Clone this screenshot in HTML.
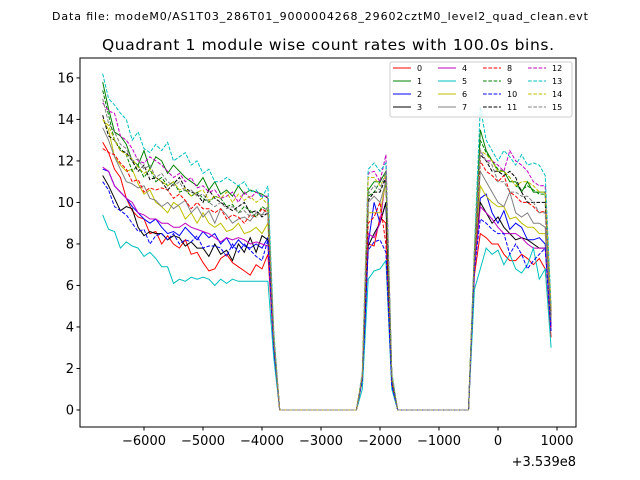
<!DOCTYPE html>
<html><head><meta charset="utf-8"><style>
body{margin:0;background:#fff}
svg{display:block;font-family:"DejaVu Sans","Liberation Sans",sans-serif}
</style></head><body>
<svg id="chart" width="640" height="480" viewBox="0 0 640 480">
<rect width="640" height="480" fill="#fff"/>
<text x="320" y="20" text-anchor="middle" font-size="11" textLength="536">Data file: modeM0/AS1T03_286T01_9000004268_29602cztM0_level2_quad_clean.evt</text>
<text x="328" y="50" text-anchor="middle" font-size="15.5" textLength="452">Quadrant 1 module wise count rates with 100.0s bins.</text>
<g id="plot"></g>
<g id="axes"></g>
<g id="legend"></g>
</svg>
<script>
const seg1Times = [-6700,-6600,-6500,-6400,-6300,-6200,-6100,-6000,-5900,-5800,-5700,-5600,-5500,-5400,-5300,-5200,-5100,-5000,-4900,-4800,-4700,-4600,-4500,-4400,-4300,-4200,-4100,-4000,-3900,-3800];
const gap1Times = [-3700,-3600,-3500,-3400,-3300,-3200,-3100,-3000,-2900,-2800,-2700,-2600,-2500,-2400];
const seg2Times = [-2300,-2200,-2100,-2000,-1900,-1800];
const gap2Times = [-1700,-1600,-1500,-1400,-1300,-1200,-1100,-1000,-900,-800,-700,-600,-500];
const seg3Times = [-400,-300,-200,-100,0,100,200,300,400,500,600,700,800,900];
const seriesNames = ["0","1","2","3","4","5","6","7","8","9","10","11","12","13","14","15"];
const seg1 = [
[12.9,12.4,11.6,11.2,10.2,9.6,9.3,9.2,8.5,8.6,8.0,8.4,8.0,7.8,8.2,7.5,7.6,7.1,6.7,6.8,7.3,7.5,7.1,6.9,6.7,6.5,7.0,6.8,7.5,3.0],
[15.8,14.5,13.4,13.2,12.8,12.0,11.8,12.5,11.6,12.2,12.0,11.4,11.8,11.5,11.2,11.0,10.8,11.2,10.6,11.0,10.4,10.6,10.3,10.8,10.4,10.6,10.5,10.4,10.2,3.5],
[11.6,11.5,10.8,10.5,10.2,9.8,9.5,9.2,9.0,9.2,8.8,8.5,8.6,8.4,8.8,8.5,8.2,8.6,8.3,8.5,8.0,8.3,7.8,8.2,7.9,7.8,8.0,7.8,8.3,3.2],
[11.3,10.8,10.2,9.6,9.8,9.7,8.8,8.4,8.6,8.5,8.5,8.2,8.4,8.3,7.9,8.1,7.8,7.8,7.4,8.0,7.5,7.7,7.2,8.0,7.6,8.3,7.6,8.4,8.2,3.0],
[11.7,11.5,10.8,10.5,10.2,10.0,9.5,9.4,9.2,9.2,9.0,9.0,8.8,8.8,9.0,8.8,8.7,8.6,8.5,8.3,8.1,8.3,8.2,8.3,8.2,8.0,8.1,8.0,7.9,3.0],
[9.4,8.7,8.6,7.8,8.1,7.9,7.8,7.4,7.6,7.3,6.9,6.9,6.1,6.3,6.2,6.4,6.3,6.4,6.3,6.0,6.3,6.1,6.3,6.2,6.2,6.2,6.2,6.2,6.2,2.5],
[14.0,13.5,12.2,11.8,11.5,11.6,10.9,10.4,10.6,10.0,9.8,9.5,10.0,9.8,9.2,9.5,9.0,9.5,9.0,8.8,9.0,8.6,8.7,9.0,8.5,8.6,8.8,8.5,9.0,3.3],
[13.6,13.0,12.2,11.6,11.0,10.9,10.7,10.8,10.2,10.1,9.8,10.0,9.7,9.9,10.1,9.5,9.8,9.3,9.6,9.0,9.7,9.4,9.0,9.2,9.3,9.1,9.5,9.4,9.8,3.5],
[12.6,12.4,12.3,11.9,11.6,11.0,11.1,10.5,10.7,10.6,10.7,10.6,10.2,10.4,10.1,9.7,10.0,9.7,9.7,9.5,9.7,9.2,9.4,9.3,9.0,9.4,9.3,9.7,9.5,3.2],
[15.4,14.2,13.0,12.6,12.3,11.5,11.8,11.2,11.6,11.0,11.2,10.8,11.0,10.5,10.6,10.3,10.5,10.2,10.0,10.3,10.2,9.8,9.9,9.5,9.8,9.6,9.3,9.8,9.6,3.5],
[11.0,10.6,9.8,9.6,9.4,9.0,8.6,8.7,8.0,8.4,8.5,8.2,8.5,8.0,8.2,8.1,8.4,7.8,7.9,7.9,7.8,7.4,8.0,7.6,8.0,7.7,7.4,7.2,8.2,3.0],
[14.2,13.2,13.0,12.5,12.4,12.0,11.5,11.8,11.1,11.2,11.0,10.6,10.9,11.2,10.7,10.5,10.4,10.0,10.6,10.2,10.0,9.8,9.6,9.8,10.0,9.5,9.6,9.3,9.5,3.4],
[14.8,14.4,14.3,13.2,13.0,12.6,12.0,11.9,12.2,12.0,11.8,11.5,11.2,11.4,11.0,11.2,10.7,10.8,10.5,10.6,10.2,10.3,10.5,10.0,10.5,10.2,10.5,10.3,10.3,3.6],
[16.2,15.0,14.7,14.3,14.0,13.0,13.4,12.6,12.4,12.8,12.5,12.9,12.0,12.2,12.4,11.8,12.0,11.4,11.6,11.0,11.0,11.2,11.0,10.8,11.0,10.5,10.6,10.2,10.8,3.8],
[14.0,13.7,13.0,12.5,12.3,12.1,11.7,11.4,11.6,11.2,11.0,10.8,11.0,10.6,10.7,10.3,10.5,10.6,10.1,10.3,10.2,10.5,10.0,10.4,10.1,10.3,10.0,10.2,9.9,3.5],
[15.0,13.8,13.4,12.8,12.6,12.0,12.1,11.6,11.8,11.2,11.4,11.0,10.8,11.0,10.5,10.6,10.3,10.4,10.0,9.8,10.0,9.7,9.8,9.5,9.6,9.3,9.5,9.4,9.5,3.4]];
const seg2 = [
[1.5,8.0,7.9,9.3,9.0,1.2],[1.6,10.6,11.0,11.0,11.5,1.6],[1.5,8.0,10.0,9.0,10.0,1.4],[1.5,7.9,8.5,9.0,10.0,1.4],
[1.5,8.5,8.3,9.0,11.2,1.4],[1.0,6.3,6.7,6.8,7.2,1.0],[1.5,9.5,9.5,9.5,11.0,1.5],[1.6,10.0,10.3,10.0,11.0,1.6],
[1.6,9.0,9.3,10.0,8.0,1.3],[1.6,10.3,10.5,11.0,11.0,1.6],[1.4,7.7,8.1,8.2,7.6,1.2],[1.6,10.1,10.5,10.5,11.2,1.6],
[1.7,11.4,11.5,11.0,12.3,1.7],[1.8,11.6,11.9,11.5,11.9,1.8],[1.7,11.2,11.2,10.8,11.3,1.7],[1.6,10.4,10.8,10.6,11.5,1.6]];
const seg3 = [
[6.5,8.5,8.3,8.0,8.0,7.5,7.2,7.2,7.5,7.3,7.0,7.3,6.8,3.5],
[7.5,13.5,12.5,12.0,11.5,11.5,11.0,11.0,10.5,11.0,10.5,10.5,10.5,4.5],
[7.0,10.2,10.4,9.5,9.0,9.6,8.7,9.0,8.8,8.2,8.2,8.3,8.0,4.0],
[7.0,10.0,9.5,9.0,9.3,8.8,8.5,8.2,8.3,8.2,8.0,7.8,7.8,4.0],
[6.8,9.8,9.5,9.2,8.8,8.5,8.5,8.5,8.3,8.0,7.8,7.8,7.8,4.0],
[5.8,6.8,7.8,7.5,7.7,7.0,7.5,6.8,6.6,7.0,7.8,6.3,6.8,3.0],
[7.2,10.8,10.3,10.0,9.8,9.8,9.2,9.3,9.0,8.8,8.8,8.5,8.5,4.3],
[7.3,11.5,11.0,10.5,10.0,9.8,10.5,9.5,9.3,9.5,9.0,9.0,8.8,4.3],
[7.2,12.0,11.5,11.3,11.0,11.3,10.5,10.3,10.0,10.0,9.8,9.5,9.6,4.5],
[7.5,13.0,12.4,12.0,11.6,11.5,11.2,10.8,10.6,10.8,10.6,10.4,10.4,4.6],
[6.8,9.2,9.0,8.7,8.5,8.5,7.5,8.0,7.5,6.8,7.2,7.5,7.8,3.8],
[7.4,12.3,12.0,11.5,11.5,11.3,11.5,11.2,10.5,10.0,10.0,10.0,10.0,4.6],
[7.6,12.5,12.0,12.0,11.8,11.5,12.5,12.0,11.8,11.5,11.0,10.8,10.8,4.8],
[7.8,14.6,13.0,12.5,12.0,12.5,12.2,11.8,12.3,11.8,11.9,11.8,11.3,5.0],
[7.6,12.5,12.3,12.0,11.5,11.5,11.2,10.8,11.0,11.0,10.8,10.5,10.5,4.8],
[7.4,12.5,12.0,11.8,11.0,11.0,10.5,10.5,10.3,10.3,10.0,9.5,9.5,4.6]];
const yTicks = [0,2,4,6,8,10,12,14,16];
const xTicks = [-6000,-5000,-4000,-3000,-2000,-1000,0,1000];
const xTickLabels = ["\u22126000","\u22125000","\u22124000","\u22123000","\u22122000","\u22121000","0","1000"];

const colors = ["#ff0000","#008000","#0000ff","#000000","#bf00bf","#00bfbf","#bfbf00","#808080"];
const NS="http://www.w3.org/2000/svg";
const L=80,R=576,T=58,B=427;
const xMin=-7085,xMax=1322,yMin=-0.82,yMax=16.96;
function xs(v){return L+(v-xMin)/(xMax-xMin)*(R-L);}
function ys(v){return B-(v-yMin)/(yMax-yMin)*(B-T);}
function mk(tag,attrs,parent){const e=document.createElementNS(NS,tag);for(const k in attrs)e.setAttribute(k,attrs[k]);parent.appendChild(e);return e;}
const plot=document.getElementById('plot'),axes=document.getElementById('axes'),leg=document.getElementById('legend');
const times=[].concat(seg1Times,gap1Times,seg2Times,gap2Times,seg3Times);
seriesNames.forEach((nm,i)=>{
  const vals=[].concat(seg1[i],gap1Times.map(()=>0),seg2[i],gap2Times.map(()=>0),seg3[i]);
  const pts=times.map((t,j)=>xs(t).toFixed(1)+','+ys(vals[j]).toFixed(1)).join(' ');
  const p=mk('polyline',{points:pts,fill:'none',stroke:colors[i%8],'stroke-width':1,'stroke-dasharray':i>=8?'3.7,1.6':'none'},plot);
  
  
});
mk('rect',{x:L,y:T,width:R-L,height:B-T,fill:'none',stroke:'#000','stroke-width':1},axes);
yTicks.forEach(v=>{
  const y=ys(v);
  mk('line',{x1:L-3.5,x2:L,y1:y,y2:y,stroke:'#000'},axes);
  const t=mk('text',{x:L-6,y:y+4.5,'text-anchor':'end','font-size':13},axes);t.textContent=v;
  
  
});
xTicks.forEach((v,i)=>{
  const x=xs(v);
  mk('line',{x1:x,x2:x,y1:B,y2:B+3.5,stroke:'#000'},axes);
  const t=mk('text',{x:x,y:B+18,'text-anchor':'middle','font-size':13},axes);t.textContent=xTickLabels[i];
  
  
});
const off=mk('text',{x:R,y:466,'text-anchor':'end','font-size':13},axes);off.textContent='+3.539e8';


mk('rect',{x:390,y:62,width:182,height:55,fill:'#fff','fill-opacity':0.8,stroke:'#ccc',rx:2},leg);
seriesNames.forEach((nm,i)=>{
  const col=Math.floor(i/4),row=i%4;
  const x0=393+col*45,y0=68+row*13;
  const g=mk('g',{},leg);
  
  
  mk('line',{x1:x0,x2:x0+18,y1:y0,y2:y0,stroke:colors[i%8],'stroke-width':1,'stroke-dasharray':i>=8?'3.7,1.6':'none'},g);
  const t=mk('text',{x:x0+24,y:y0+3,'font-size':8},g);t.textContent=nm;
});
</script>
</body></html>
